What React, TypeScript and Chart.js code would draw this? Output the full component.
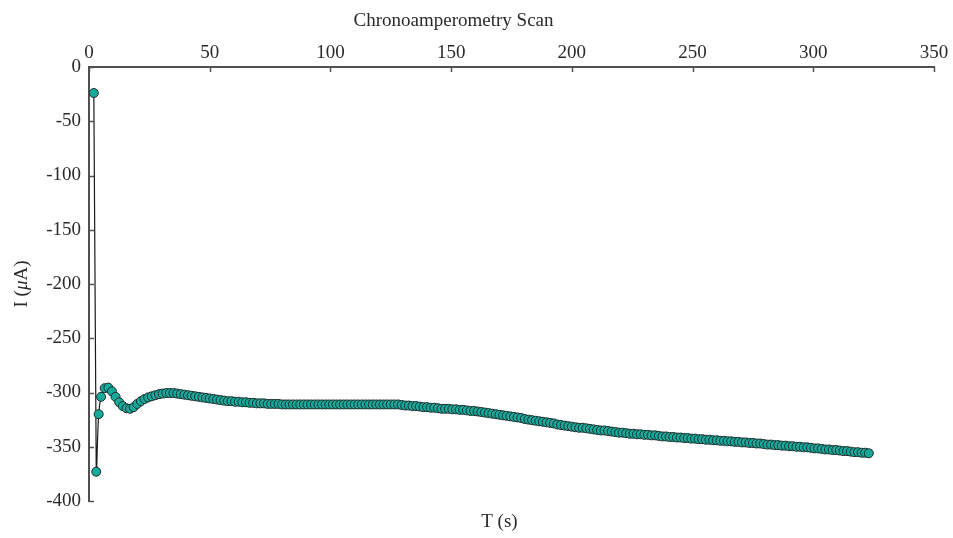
import React, { useEffect, useRef } from "react";
import { Chart, registerables } from "chart.js";

Chart.register(...registerables);

const chartTitle = "Chronoamperometry Scan";
const xAxisTitle = "T (s)";
const yTitleParts = ["I (", "μ", "A)"];

const xTicks = [0, 50, 100, 150, 200, 250, 300, 350];
const yTicks = [0, -50, -100, -150, -200, -250, -300, -350, -400];

const timeS = [
  2, 3, 4, 5, 6.5, 8, 9.5, 11, 12.5, 14,
  15.5, 17, 18.5, 20, 21.5, 23, 24.5, 26, 27.5, 29,
  30.5, 32, 33.5, 35, 36.5, 38, 39.5, 41, 42.5, 44,
  45.5, 47, 48.5, 50, 51.5, 53, 54.5, 56, 57.5, 59,
  60.5, 62, 63.5, 65, 66.5, 68, 69.5, 71, 72.5, 74,
  75.5, 77, 78.5, 80, 81.5, 83, 84.5, 86, 87.5, 89,
  90.5, 92, 93.5, 95, 96.5, 98, 99.5, 101, 102.5, 104,
  105.5, 107, 108.5, 110, 111.5, 113, 114.5, 116, 117.5, 119,
  120.5, 122, 123.5, 125, 126.5, 128, 129.5, 131, 132.5, 134,
  135.5, 137, 138.5, 140, 141.5, 143, 144.5, 146, 147.5, 149,
  150.5, 152, 153.5, 155, 156.5, 158, 159.5, 161, 162.5, 164,
  165.5, 167, 168.5, 170, 171.5, 173, 174.5, 176, 177.5, 179,
  180.5, 182, 183.5, 185, 186.5, 188, 189.5, 191, 192.5, 194,
  195.5, 197, 198.5, 200, 201.5, 203, 204.5, 206, 207.5, 209,
  210.5, 212, 213.5, 215, 216.5, 218, 219.5, 221, 222.5, 224,
  225.5, 227, 228.5, 230, 231.5, 233, 234.5, 236, 237.5, 239,
  240.5, 242, 243.5, 245, 246.5, 248, 249.5, 251, 252.5, 254,
  255.5, 257, 258.5, 260, 261.5, 263, 264.5, 266, 267.5, 269,
  270.5, 272, 273.5, 275, 276.5, 278, 279.5, 281, 282.5, 284,
  285.5, 287, 288.5, 290, 291.5, 293, 294.5, 296, 297.5, 299,
  300.5, 302, 303.5, 305, 306.5, 308, 309.5, 311, 312.5, 314,
  315.5, 317, 318.5, 320, 321.5, 323,
];

const currentUA = [
  -24, -373, -320, -304, -296, -295.5, -299, -304, -309, -312.5,
  -314.5, -315, -313.5, -310.5, -308, -306, -304.5, -303.5, -302.5, -301.5,
  -301, -300.5, -300.5, -300.5, -301, -301.5, -302, -302.5, -303, -303.5,
  -304, -304.5, -305, -305.5, -306, -306.5, -307, -307.5, -308, -308,
  -308.5, -308.5, -309, -309, -309.5, -309.5, -310, -310, -310, -310.5,
  -310.5, -310.5, -310.5, -311, -311, -311, -311, -311, -311, -311,
  -311, -311, -311, -311, -311, -311, -311, -311, -311, -311,
  -311, -311, -311, -311, -311, -311, -311, -311, -311, -311,
  -311, -311, -311, -311, -311, -311, -311.5, -312, -312, -312.5,
  -312.5, -313, -313.5, -313.5, -314, -314, -314.5, -315, -315, -315,
  -315.5, -315.5, -316, -316, -316.5, -317, -317, -317.5, -318, -318.5,
  -319, -319.5, -320, -320.5, -321, -321.5, -322, -322.5, -323, -323.5,
  -324.5, -325, -325.5, -326, -326.5, -327, -327.5, -328, -328.5, -329.5,
  -330, -330.5, -331, -331.5, -332, -332.5, -332.5, -333, -333.5, -334,
  -334.5, -335, -335, -335.5, -336, -336.5, -337, -337, -337.5, -338,
  -338, -338.5, -338.5, -339, -339, -339.5, -339.5, -340, -340.5, -340.5,
  -341, -341, -341.5, -341.5, -342, -342, -342.5, -342.5, -343, -343,
  -343.5, -343.5, -344, -344, -344.5, -344.5, -345, -345, -345.5, -345.5,
  -346, -346, -346.5, -346.5, -347, -347, -347.5, -348, -348, -348.5,
  -348.5, -349, -349, -349.5, -349.5, -350, -350, -350.5, -350.5, -351,
  -351.5, -351.5, -352, -352.5, -352.5, -353, -353, -353.5, -354, -354,
  -354.5, -355, -355, -355.5, -355.5, -356,
];

const FONT = '"Liberation Serif", "DejaVu Serif", serif';
const TEXT = "#2a2a2a";
const AXIS = "#505050";

const overlayPlugin = {
  id: "overlay",
  afterDraw(chart: any) {
    const { ctx, chartArea, scales } = chart;
    const xs = scales.x;
    const ys = scales.y;
    ctx.save();
    ctx.strokeStyle = AXIS;
    ctx.lineWidth = 1.5;
    xs.ticks.forEach((t: any) => {
      const px = Math.round(xs.getPixelForValue(t.value)) + 0.5;
      ctx.beginPath();
      ctx.moveTo(px, chartArea.top);
      ctx.lineTo(px, chartArea.top + 5);
      ctx.stroke();
    });
    ys.ticks.forEach((t: any) => {
      const py = Math.round(ys.getPixelForValue(t.value)) + 0.5;
      ctx.beginPath();
      ctx.moveTo(chartArea.left, py);
      ctx.lineTo(chartArea.left + 5, py);
      ctx.stroke();
    });
    ctx.fillStyle = TEXT;
    ctx.font = `19px ${FONT}`;
    ctx.textAlign = "center";
    ctx.textBaseline = "middle";
    ctx.fillText(chartTitle, xs.getPixelForValue(151), 21);
    ctx.fillText(xAxisTitle, xs.getPixelForValue(170), 522);

    // y title with italic mu
    const cy = (chartArea.top + chartArea.bottom) / 2;
    ctx.translate(22, cy);
    ctx.rotate(-Math.PI / 2);
    const fonts = [`19px ${FONT}`, `italic 19px ${FONT}`, `19px ${FONT}`];
    let total = 0;
    const widths = yTitleParts.map((p, i) => {
      ctx.font = fonts[i];
      const w = ctx.measureText(p).width;
      total += w;
      return w;
    });
    let cx = -total / 2;
    ctx.textAlign = "left";
    yTitleParts.forEach((p, i) => {
      ctx.font = fonts[i];
      ctx.fillText(p, cx, 0);
      cx += widths[i];
    });
    ctx.restore();
  },
};

export default function App() {
  const ref = useRef<HTMLCanvasElement | null>(null);

  useEffect(() => {
    document.body.style.margin = "0";
    if (!ref.current) return;
    const n = Math.min(timeS.length, currentUA.length);
    const points = [];
    for (let i = 0; i < n; i++) points.push({ x: timeS[i], y: currentUA[i] });

    const chart = new Chart(ref.current, {
      type: "line",
      data: {
        datasets: [
          {
            data: points,
            borderColor: "#1a1a1a",
            borderWidth: 1.2,
            tension: 0.4,
            pointRadius: 4.5,
            pointBackgroundColor: "#17a99b",
            pointBorderColor: "#1d2b2a",
            pointBorderWidth: 1,
            fill: false,
          },
        ],
      },
      options: {
        animation: false,
        responsive: false,
        maintainAspectRatio: false,
        layout: { padding: { top: 0, left: 0, right: 19, bottom: 37 } },
        plugins: {
          legend: { display: false },
          tooltip: { enabled: false },
          title: { display: false },
        },
        scales: {
          x: {
            type: "linear",
            position: "top",
            min: 0,
            max: 350,
            afterBuildTicks: (scale: any) => {
              scale.ticks = xTicks.map((v) => ({ value: v }));
            },
            afterFit: (scale: any) => {
              scale.height = 67;
            },
            grid: { display: false, drawTicks: false },
            border: { display: true, color: AXIS, width: 2 },
            ticks: {
              padding: 3,
              color: TEXT,
              font: { family: FONT, size: 19 },
              maxRotation: 0,
            },
          },
          y: {
            type: "linear",
            min: -400,
            max: 0,
            afterBuildTicks: (scale: any) => {
              scale.ticks = yTicks.map((v) => ({ value: v }));
            },
            afterFit: (scale: any) => {
              scale.width = 89;
            },
            grid: { display: false, drawTicks: false },
            border: { display: true, color: AXIS, width: 2 },
            ticks: {
              padding: 8,
              color: TEXT,
              font: { family: FONT, size: 19 },
            },
          },
        },
      },
      plugins: [overlayPlugin],
    });
    return () => chart.destroy();
  }, []);

  return (
    <div style={{ width: 953, height: 538 }}>
      <canvas ref={ref} width={953} height={538} style={{ display: "block" }} />
    </div>
  );
}
